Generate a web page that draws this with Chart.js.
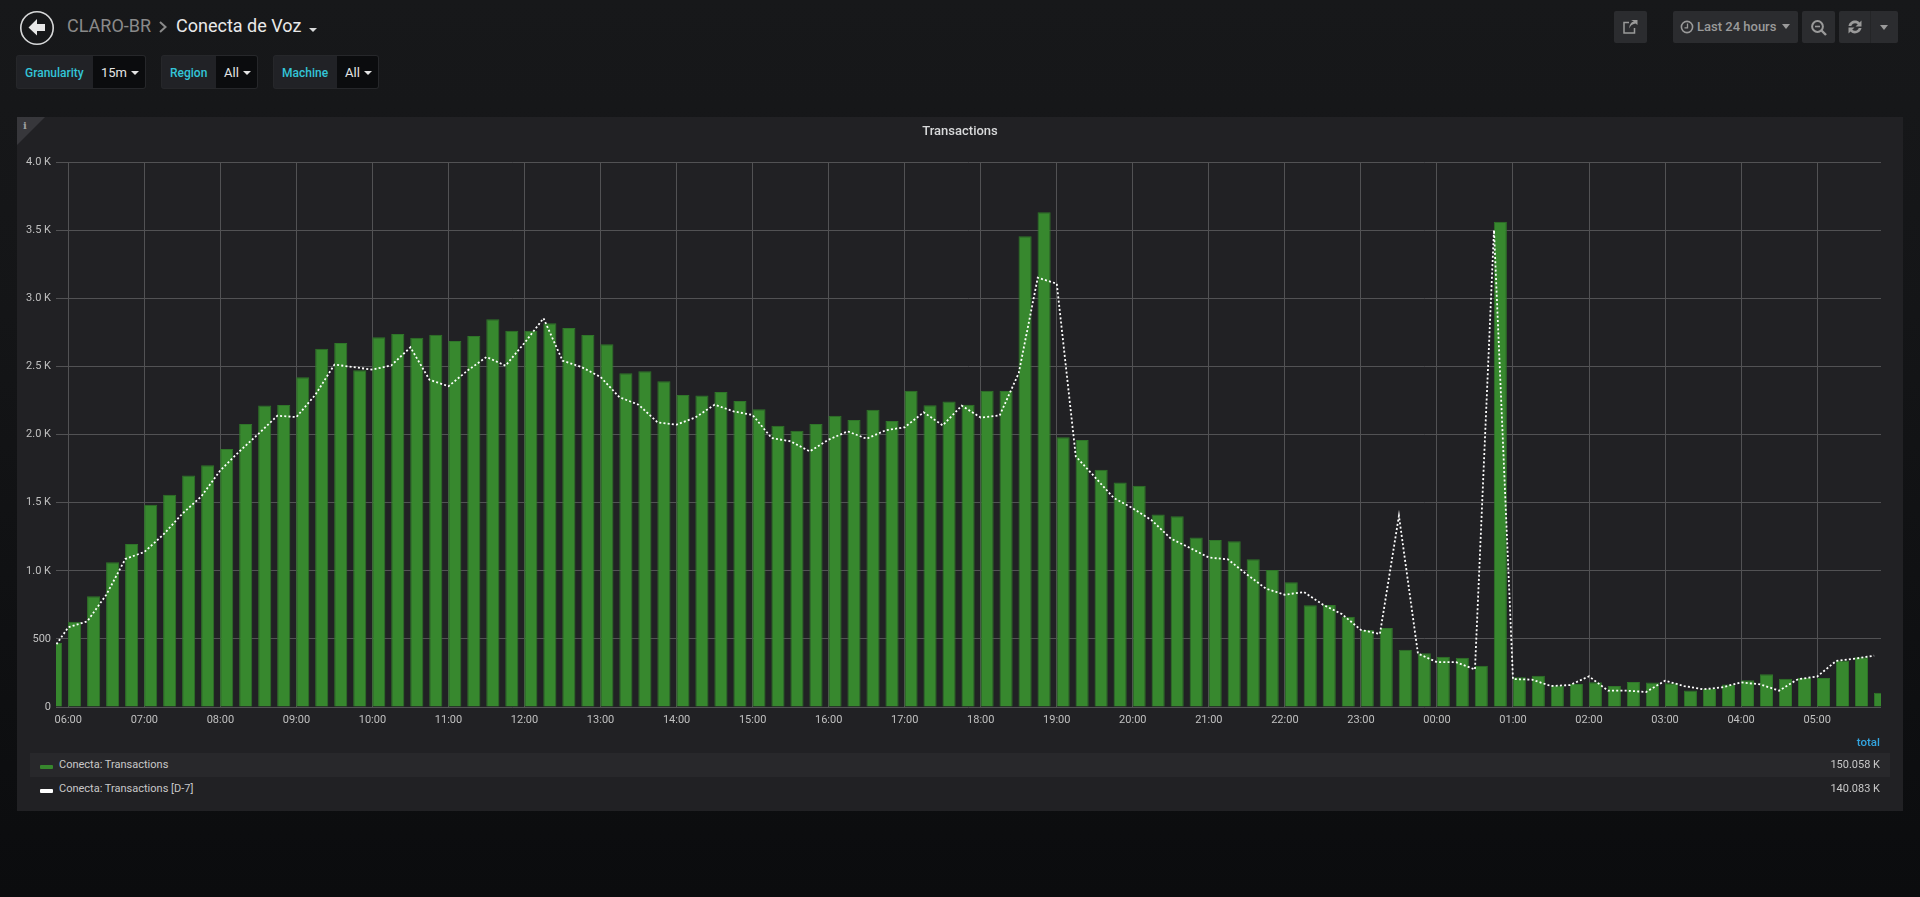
<!DOCTYPE html>
<html>
<head>
<meta charset="utf-8">
<title>Conecta de Voz</title>
<script src="https://cdn.jsdelivr.net/npm/chart.js@4"></script>
<style>
  html, body { margin: 0; padding: 0; height: 100%; overflow: hidden; }
  body {
    position: relative; width: 1920px; height: 897px;
    background: linear-gradient(#17181a 0%, #141517 35%, #0b0c0e 100%);
    font-family: Roboto, sans-serif; color: #d8d9da;
  }
  .abs { position: absolute; white-space: nowrap; }
  .crumb { top: 13px; font-size: 18px; line-height: 26px; }
  .var-label, .var-value { position: absolute; top: 55px; height: 34px; line-height: 34px; box-sizing: border-box; font-size: 12px; }
  .var-label { background: #212226; color: #33c5d8; font-weight: 500; padding-left: 8px; border: 1px solid #26272a; border-right: 0; border-radius: 3px 0 0 3px; }
  .var-value { background: #0b0c0e; color: #e4e4e4; font-size: 13px; padding-left: 8px; border: 1px solid #26272a; border-left: 0; border-radius: 0 3px 3px 0; }
  .caret { display: inline-block; width: 0; height: 0; border-left: 4px solid transparent; border-right: 4px solid transparent; border-top: 4px solid currentColor; vertical-align: 2px; margin-left: 4px; }
  .btn { position: absolute; top: 11px; height: 32px; background: #2b2c2f; border-radius: 2px; color: #9a9a9a; font-size: 13px; font-weight: 500; line-height: 32px; }
  .panel { position: absolute; left: 17px; top: 117px; width: 1886px; height: 694px; background: #212124; }
  .corner { position: absolute; left: 0; top: 0; width: 28px; height: 28px; background: #37373b; clip-path: polygon(0 0, 100% 0, 0 100%); }
  .corner span { position: absolute; left: 6px; top: 3px; font: bold 10px "DejaVu Serif", serif; color: #a0a0a0; }
  .panel-title { position: absolute; left: 0; right: 0; top: 6px; text-align: center; font-size: 13px; font-weight: 500; line-height: 16px; color: #d8d9da; }
  canvas { position: absolute; left: 0; top: 0; }
  .legend-head { position: absolute; right: 23px; top: 618px; font-size: 11.5px; font-weight: 500; color: #33a5e0; line-height: 14px; }
  .legend-row { position: absolute; left: 13px; width: 1860px; height: 24px; line-height: 24px; font-size: 11px; color: #c8c8c8; }
  .legend-row.even { background: #28282b; }
  .legend-row i { position: absolute; left: 10px; top: 12px; width: 13px; height: 4px; border-radius: 1px; }
  .legend-row b { position: absolute; left: 29px; font-weight: 400; }
  .legend-row em { position: absolute; right: 10px; font-style: normal; }
</style>
</head>
<body>

<svg class="abs" style="left:19px;top:10px" width="36" height="36" viewBox="0 0 36 36">
  <circle cx="18" cy="18" r="16.2" fill="none" stroke="#d8d9da" stroke-width="1.6"/>
  <path d="M18 9 L9.5 17.5 L18 25.5 L18 21 L26 21 L26 14 L18 14 Z" fill="#e8e8e8"/>
</svg>
<div class="abs crumb" style="left:67px;color:#8a8a8a">CLARO-BR</div>
<svg class="abs" style="left:158px;top:20px" width="10" height="14" viewBox="0 0 10 14"><path d="M2 2 L7.5 7 L2 12" fill="none" stroke="#8a8a8a" stroke-width="2"/></svg>
<div class="abs crumb" style="left:176px;color:#e9e9e9">Conecta de Voz</div>
<span class="caret abs" style="left:309px;top:28px;margin:0;color:#d8d9da"></span>

<div class="var-label" style="left:16px;width:77px">Granularity</div>
<div class="var-value" style="left:93px;width:53px">15m<span class="caret"></span></div>
<div class="var-label" style="left:161px;width:55px">Region</div>
<div class="var-value" style="left:216px;width:42px">All<span class="caret"></span></div>
<div class="var-label" style="left:273px;width:64px">Machine</div>
<div class="var-value" style="left:337px;width:42px">All<span class="caret"></span></div>

<div class="btn" style="left:1614px;width:33px">
  <svg style="position:absolute;left:8px;top:7px" width="17" height="17" viewBox="0 0 17 17"><path d="M9 2 L15.5 2 L15.5 7 L13.5 5.5 C10 6 8 8 7.5 10.5 C7 7 9 4 12 3.5 Z" fill="#9a9a9a"/><path d="M7 4.5 H2 V15 H12.5 V10" fill="none" stroke="#9a9a9a" stroke-width="1.5"/></svg>
</div>
<div class="btn" style="left:1673px;width:125px;padding-left:24px;box-sizing:border-box">Last 24 hours<span class="caret" style="border-left-width:4.5px;border-right-width:4.5px;border-top-width:5px;margin-left:6px"></span>
  <svg style="position:absolute;left:7px;top:9px" width="14" height="14" viewBox="0 0 14 14"><circle cx="7" cy="7" r="5.6" fill="none" stroke="#9a9a9a" stroke-width="1.6"/><path d="M7.5 3.5 V7.8 H4.5" fill="none" stroke="#9a9a9a" stroke-width="1.3"/></svg>
</div>
<div class="btn" style="left:1802px;width:33px">
  <svg style="position:absolute;left:8px;top:8px" width="18" height="18" viewBox="0 0 18 18"><circle cx="7.5" cy="7.5" r="5.4" fill="none" stroke="#9a9a9a" stroke-width="2"/><path d="M5 7.5 H10" stroke="#9a9a9a" stroke-width="1.6"/><path d="M11.5 11.5 L16 16" stroke="#9a9a9a" stroke-width="2.4"/></svg>
</div>
<div class="btn" style="left:1839px;width:59px">
  <svg style="position:absolute;left:8px;top:8px" width="16" height="16" viewBox="0 0 16 16"><path d="M1.5 7 C2.5 1.5 9.5 0 12.5 3.5 L14.5 1.5 V7.5 H8.5 L10.8 5.2 C8.5 3.2 5 4.2 4.3 7 Z" fill="#9a9a9a"/><path d="M14.5 9 C13.5 14.5 6.5 16 3.5 12.5 L1.5 14.5 V8.5 H7.5 L5.2 10.8 C7.5 12.8 11 11.8 11.7 9 Z" fill="#9a9a9a"/></svg>
  <div style="position:absolute;left:31px;top:0;width:1px;height:32px;background:#242527"></div>
  <span class="caret" style="position:absolute;left:41px;top:14px;margin:0;border-left-width:4.5px;border-right-width:4.5px;border-top-width:5px"></span>
</div>

<div class="panel">
  <canvas id="transactionsChart" width="1886" height="620"></canvas>
  <div class="corner"><span>i</span></div>
  <div class="panel-title">Transactions</div>
  <div class="legend-head">total</div>
  <div class="legend-row even" style="top:636px"><i style="background:#37872d"></i><b id="legendA"></b><em id="totalA"></em></div>
  <div class="legend-row" style="top:660px"><i style="background:#fff"></i><b id="legendB"></b><em id="totalB"></em></div>
</div>

<script>
const seriesNames = ['Conecta: Transactions', 'Conecta: Transactions [D-7]'];
const seriesTotals = ['150.058 K', '140.083 K'];

const transactions = [
  470,
  626, 812, 1062, 1196, 1485, 1558, 1700, 1774,
  1894, 2077, 2212, 2217, 2420, 2630, 2672, 2471,
  2713, 2738, 2711, 2733, 2686, 2723, 2845, 2762,
  2762, 2816, 2782, 2730, 2662, 2449, 2464, 2390,
  2290, 2287, 2312, 2246, 2185, 2065, 2028, 2077,
  2138, 2106, 2182, 2099, 2322, 2214, 2243, 2219,
  2322, 2319, 3455, 3632, 1979, 1959, 1741, 1648,
  1623, 1413, 1400, 1244, 1226, 1216, 1084, 1006,
  915, 746, 748, 662, 566, 579, 420, 394,
  369, 361, 303, 3561, 218, 230, 157, 169,
  181, 154, 183, 179, 174, 122, 132, 166,
  196, 240, 208, 213, 213, 342, 365, 105
];

const transactionsD7 = [
  385,
  585, 629, 824, 1086, 1138, 1265, 1419, 1546,
  1737, 1876, 2004, 2138, 2128, 2292, 2513, 2495,
  2476, 2508, 2640, 2402, 2354, 2469, 2569, 2505,
  2672, 2853, 2542, 2495, 2422, 2273, 2219, 2089,
  2072, 2126, 2219, 2170, 2143, 1974, 1950, 1876,
  1962, 2023, 1969, 2031, 2053, 2163, 2067, 2212,
  2124, 2141, 2451, 3151, 3107, 1840, 1688, 1534,
  1458, 1370, 1236, 1168, 1097, 1084, 973, 869,
  824, 844, 751, 682, 566, 536, 1403, 392,
  329, 329, 275, 3500, 205, 201, 154, 161,
  225, 120, 120, 110, 193, 154, 130, 144,
  181, 166, 120, 205, 223, 338, 355, 377
];

const hourLabels = [
  '06:00','07:00','08:00','09:00','10:00','11:00','12:00','13:00',
  '14:00','15:00','16:00','17:00','18:00','19:00','20:00','21:00',
  '22:00','23:00','00:00','01:00','02:00','03:00','04:00','05:00'
];

const yTicks = [0, 500, 1000, 1500, 2000, 2500, 3000, 3500, 4000];

// x is minutes since 06:00, the series run in 15 minute slots from 05:45
const minutesOf = i => (i - 1) * 15;
const xMin = -9.7;
const xMax = 1430.4;
const barMinutes = 10; // bars start at their timestamp, they are not centred on it

const barPoints = transactions.map((v, i) => ({ x: minutesOf(i), y: v }));
const linePoints = transactionsD7.map((v, i) => ({ x: minutesOf(i), y: v }));

const tickFont = { family: 'Roboto', size: 11 };

new Chart(document.getElementById('transactionsChart'), {
  type: 'bar',
  data: {
    datasets: [
      {
        type: 'line',
        label: seriesNames[1],
        data: linePoints,
        xAxisID: 'x',
        borderColor: '#ffffff',
        borderWidth: 1.8,
        borderDash: [2, 2.2],
        pointRadius: 0,
        tension: 0,
        order: 0
      },
      {
        type: 'bar',
        label: seriesNames[0],
        data: barPoints,
        xAxisID: 'xBars',
        backgroundColor: '#37882e',
        borderColor: '#2f7529',
        borderWidth: 1,
        grouped: false,
        barPercentage: 0.69,
        categoryPercentage: 1,
        order: 1
      }
    ]
  },
  options: {
    responsive: false,
    animation: false,
    devicePixelRatio: 1,
    layout: { padding: { top: 45, right: 22, bottom: 0, left: 0 } },
    plugins: {
      legend: { display: false },
      title: { display: false },
      tooltip: { enabled: false }
    },
    scales: {
      x: {
        type: 'linear',
        min: xMin,
        max: xMax,
        offset: false,
        grid: { color: '#525254', offset: false, drawTicks: false },
        border: { display: false },
        afterBuildTicks: s => {
          s.ticks = hourLabels.map((_, i) => ({ value: i * 60 }));
        },
        afterFit: s => { s.height = 30; },
        ticks: {
          color: '#c0c0c0',
          font: tickFont,
          padding: 7,
          maxRotation: 0,
          autoSkip: false,
          callback: v => hourLabels[v / 60]
        }
      },
      xBars: {
        type: 'linear',
        display: false,
        min: xMin - barMinutes / 2,
        max: xMax - barMinutes / 2,
        offset: false,
        grid: { offset: false }
      },
      y: {
        type: 'linear',
        min: yTicks[0],
        max: yTicks[yTicks.length - 1],
        grid: { color: '#525254', drawTicks: false },
        border: { display: false },
        afterBuildTicks: s => {
          s.ticks = yTicks.map(v => ({ value: v }));
        },
        afterFit: s => { s.width = 39; },
        ticks: {
          color: '#c0c0c0',
          font: tickFont,
          padding: 5,
          callback: v => (v >= 1000 ? (v / 1000).toFixed(1) + ' K' : String(v))
        }
      }
    }
  }
});

document.getElementById('legendA').textContent = seriesNames[0];
document.getElementById('legendB').textContent = seriesNames[1];
document.getElementById('totalA').textContent = seriesTotals[0];
document.getElementById('totalB').textContent = seriesTotals[1];
</script>
</body>
</html>
